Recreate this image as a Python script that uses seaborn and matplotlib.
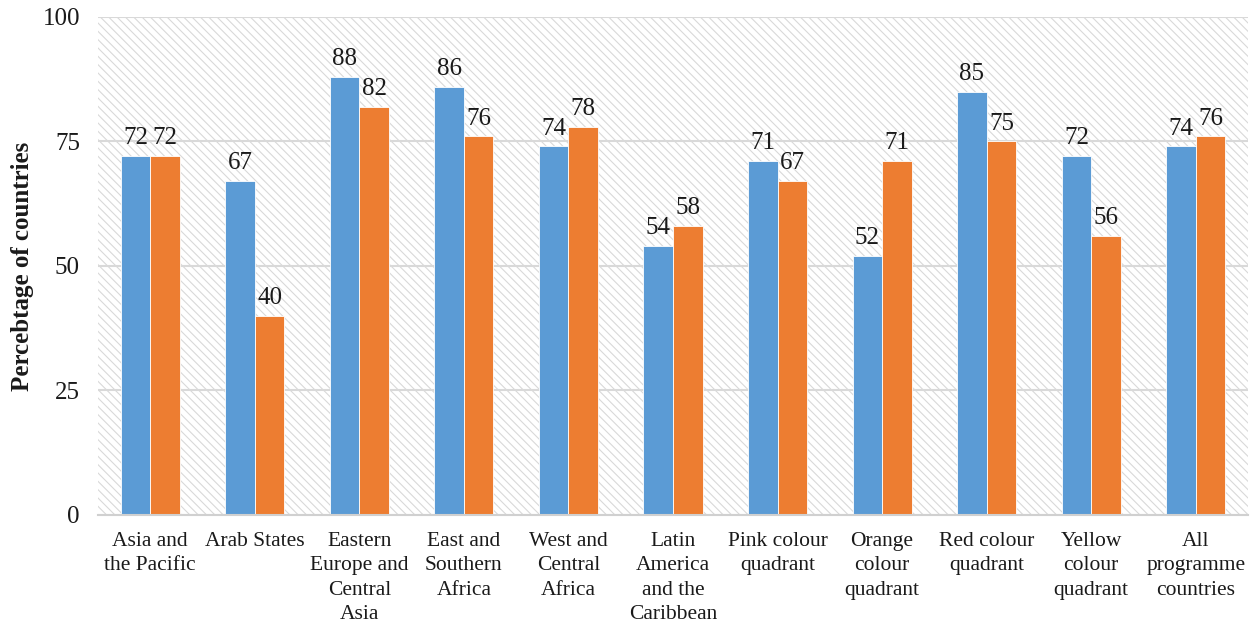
import matplotlib
matplotlib.use("Agg")
import matplotlib.pyplot as plt
from matplotlib.patches import Rectangle
import seaborn as sns
import pandas as pd

categories = [
    "Asia and\nthe Pacific", "Arab States", "Eastern\nEurope and\nCentral\nAsia",
    "East and\nSouthern\nAfrica", "West and\nCentral\nAfrica",
    "Latin\nAmerica\nand the\nCaribbean", "Pink colour\nquadrant",
    "Orange\ncolour\nquadrant", "Red colour\nquadrant", "Yellow\ncolour\nquadrant",
    "All\nprogramme\ncountries",
]
series_names = ["Series 1", "Series 2"]
series_1 = [72, 67, 88, 86, 74, 54, 71, 52, 85, 72, 74]
series_2 = [72, 40, 82, 76, 78, 58, 67, 71, 75, 56, 76]
y_ticks = [0, 25, 50, 75, 100]
y_label = "Percebtage of countries"

df = pd.DataFrame({
    "category": categories * 2,
    "series": [series_names[0]] * len(categories) + [series_names[1]] * len(categories),
    "value": series_1 + series_2,
})

sns.set_theme(style="white")
plt.rcParams["font.family"] = ["Liberation Serif", "DejaVu Serif"]
plt.rcParams["hatch.linewidth"] = 0.8

fig = plt.figure(figsize=(12.59, 6.24), dpi=100)
ax = fig.add_axes([0.0778, 0.1747, 0.9135, 0.7981])

# hatched plot background
ax.add_patch(Rectangle((0, 0), 1, 1, transform=ax.transAxes, facecolor="white",
                       edgecolor="#d9d9d9", hatch="\\\\\\\\", linewidth=0, zorder=0))

sns.barplot(data=df, x="category", y="value", hue="series",
            palette=["#5B9BD5", "#ED7D31"], saturation=1, width=0.565, gap=0,
            edgecolor="white", linewidth=0.6, legend=False, ax=ax, zorder=3)

for container in ax.containers:
    ax.bar_label(container, fmt="%.0f", padding=5, fontsize=18, color="#1a1a1a")

ax.set_ylim(0, 100)
ax.set_yticks(y_ticks)
ax.set_xlim(-0.5, len(categories) - 0.5)
ax.yaxis.grid(True, color="#d9d9d9", linewidth=1.5, zorder=1)
ax.set_axisbelow(False)
for line in ax.get_ygridlines():
    line.set_zorder(1)
ax.tick_params(axis="y", length=0, pad=13, labelsize=18, labelcolor="#1a1a1a")
ax.tick_params(axis="x", length=0, pad=12, labelsize=15.5, labelcolor="#1a1a1a")
for lbl in ax.get_xticklabels():
    lbl.set_linespacing(1.39)
for side in ["top", "left", "right"]:
    ax.spines[side].set_visible(False)
ax.spines["bottom"].set_color("#d0d0d0")
ax.spines["bottom"].set_linewidth(1.5)
ax.spines["bottom"].set_zorder(4)

ax.set_xlabel("")
ax.set_ylabel(y_label, fontsize=18, fontweight="bold", color="#1a1a1a")
ax.yaxis.set_label_coords(-0.056, 0.5)

fig.savefig("out.png", dpi=100)
